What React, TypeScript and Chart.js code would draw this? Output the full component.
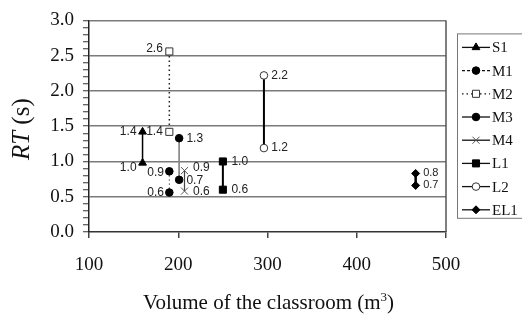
import React, { useEffect, useRef } from 'react';
import { Chart, registerables } from 'chart.js';
import { drawPoint } from 'chart.js/helpers';

Chart.register(...registerables);

// ---- data ----
const seriesNames = ['S1', 'M1', 'M2', 'M3', 'M4', 'L1', 'L2', 'EL1'];
const volumes = [160, 190, 190, 201, 207, 250, 296, 466];
const rtHigh = [1.42, 0.86, 2.56, 1.33, 0.87, 1.0, 2.22, 0.83];
const rtLow = [0.98, 0.56, 1.42, 0.74, 0.58, 0.6, 1.19, 0.66];
const xTickValues = [100, 200, 300, 400, 500];
const yTickValues = [0, 0.5, 1.0, 1.5, 2.0, 2.5, 3.0];
const xTitleMain = 'Volume of the classroom (m';
const xTitleSup = '3';
const xTitleEnd = ')';
const yTitleItalic = 'RT';
const yTitleRest = ' (s)';

// ---- styles ----
type S = {
  pointStyle: string; radius: number; fill: string; stroke: string;
  line: string; width: number; dash: number[]; side: 'left' | 'right';
  dyHigh: number; dyLow: number; legendDash: number[]; labelSize: number;
};
const styles: S[] = [
  { pointStyle: 'triangle', radius: 4.5, fill: '#000', stroke: '#000', line: '#000', width: 1.5, dash: [], side: 'left', dyHigh: 0, dyLow: 5, legendDash: [], labelSize: 12 },
  { pointStyle: 'circle', radius: 3.8, fill: '#000', stroke: '#000', line: '#555', width: 1, dash: [1.5, 2.5], side: 'left', dyHigh: 1, dyLow: 0, legendDash: [3, 2], labelSize: 12 },
  { pointStyle: 'rect', radius: 5, fill: '#fff', stroke: '#333', line: '#222', width: 1.5, dash: [1.5, 3], side: 'left', dyHigh: -3, dyLow: 0, legendDash: [1.5, 3], labelSize: 12 },
  { pointStyle: 'circle', radius: 3.8, fill: '#000', stroke: '#000', line: '#888', width: 1, dash: [], side: 'right', dyHigh: 0, dyLow: 1, legendDash: [], labelSize: 12 },
  { pointStyle: 'crossRot', radius: 5, fill: '#555', stroke: '#555', line: '#444', width: 1.2, dash: [], side: 'right', dyHigh: -3, dyLow: 1, legendDash: [], labelSize: 12 },
  { pointStyle: 'rect', radius: 5, fill: '#000', stroke: '#000', line: '#000', width: 2, dash: [], side: 'right', dyHigh: 0, dyLow: 0, legendDash: [], labelSize: 12 },
  { pointStyle: 'circle', radius: 3.8, fill: '#fff', stroke: '#333', line: '#000', width: 2, dash: [], side: 'right', dyHigh: 0, dyLow: 0, legendDash: [], labelSize: 12 },
  { pointStyle: 'rectRot', radius: 4, fill: '#000', stroke: '#000', line: '#000', width: 2.5, dash: [], side: 'right', dyHigh: 0, dyLow: 0, legendDash: [], labelSize: 11 },
];

const SERIF = "'Liberation Serif', 'Times New Roman', serif";
const SANS = "'Liberation Sans', Arial, sans-serif";

const isMajor = (v: number) => Math.abs(v * 2 - Math.round(v * 2)) < 1e-6;

const decorPlugin = {
  id: 'decor',
  afterDatasetsDraw(chart: any) {
    const ctx = chart.ctx as CanvasRenderingContext2D;
    const ca = chart.chartArea;
    ctx.save();
    // right border
    ctx.strokeStyle = '#555';
    ctx.lineWidth = 1.5;
    ctx.beginPath();
    ctx.moveTo(ca.right, ca.top);
    ctx.lineTo(ca.right, ca.bottom);
    ctx.stroke();

    // data labels
    chart.data.datasets.forEach((ds: any, i: number) => {
      const st = styles[i];
      const meta = chart.getDatasetMeta(i);
      ctx.font = `${st.labelSize}px ${SANS}`;
      ctx.fillStyle = '#222';
      ctx.textBaseline = 'middle';
      meta.data.forEach((pt: any, j: number) => {
        const v = ds.data[j].y;
        const txt = v.toFixed(1);
        const dy = j === 0 ? st.dyHigh : st.dyLow;
        if (st.side === 'left') {
          ctx.textAlign = 'right';
          ctx.fillText(txt, pt.x - st.radius - 1.5, pt.y + dy);
        } else {
          ctx.textAlign = 'left';
          ctx.fillText(txt, pt.x + st.radius + 3.5, pt.y + dy);
        }
      });
    });

    // legend
    const lx = ca.right + 11;
    const ly = ca.top + 13;
    const step = 23.2;
    const n = chart.data.datasets.length;
    ctx.strokeStyle = '#777';
    ctx.lineWidth = 1;
    ctx.setLineDash([]);
    ctx.strokeRect(lx + 0.5, ly + 0.5, 80, 14 + (n - 1) * step + 8);
    chart.data.datasets.forEach((ds: any, i: number) => {
      const st = styles[i];
      const y = ly + 14 + i * step;
      ctx.save();
      ctx.strokeStyle = '#111';
      ctx.lineWidth = 1.3;
      ctx.setLineDash(st.legendDash);
      ctx.beginPath();
      ctx.moveTo(lx + 5, y);
      ctx.lineTo(lx + 33, y);
      ctx.stroke();
      ctx.restore();
      ctx.save();
      ctx.fillStyle = st.fill;
      ctx.strokeStyle = st.stroke;
      ctx.lineWidth = 1;
      drawPoint(ctx, { pointStyle: st.pointStyle as any, radius: st.radius, rotation: 0, borderWidth: 1 } as any, lx + 19, y);
      ctx.restore();
      ctx.fillStyle = '#111';
      ctx.font = `15px ${SERIF}`;
      ctx.textAlign = 'left';
      ctx.textBaseline = 'middle';
      ctx.fillText(ds.label, lx + 35, y + 1);
    });

    // y title
    ctx.save();
    ctx.translate(22, (ca.top + ca.bottom) / 2 + 3);
    ctx.rotate(-Math.PI / 2);
    ctx.fillStyle = '#111';
    ctx.textBaseline = 'middle';
    ctx.textAlign = 'left';
    ctx.font = `italic 25px ${SERIF}`;
    const w1 = ctx.measureText(yTitleItalic).width;
    ctx.font = `25px ${SERIF}`;
    const w2 = ctx.measureText(yTitleRest).width;
    const sx = -(w1 + w2) / 2;
    ctx.font = `italic 25px ${SERIF}`;
    ctx.fillText(yTitleItalic, sx, 0);
    ctx.font = `25px ${SERIF}`;
    ctx.fillText(yTitleRest, sx + w1, 0);
    ctx.restore();

    // x title
    ctx.fillStyle = '#111';
    ctx.textBaseline = 'alphabetic';
    ctx.textAlign = 'left';
    ctx.font = `21px ${SERIF}`;
    const a = ctx.measureText(xTitleMain).width;
    const c = ctx.measureText(xTitleEnd).width;
    ctx.font = `13px ${SERIF}`;
    const b = ctx.measureText(xTitleSup).width;
    const cx = (ca.left + ca.right) / 2 + 1;
    const base = 309;
    const x0 = cx - (a + b + c) / 2;
    ctx.font = `21px ${SERIF}`;
    ctx.fillText(xTitleMain, x0, base);
    ctx.font = `13px ${SERIF}`;
    ctx.fillText(xTitleSup, x0 + a, base - 8);
    ctx.font = `21px ${SERIF}`;
    ctx.fillText(xTitleEnd, x0 + a + b, base);
    ctx.restore();
  },
};

export default function App() {
  const ref = useRef<HTMLCanvasElement>(null);
  useEffect(() => {
    if (!ref.current) return;
    const datasets = seriesNames.map((name, i) => {
      const st = styles[i];
      return {
        label: name,
        data: [
          { x: volumes[i], y: rtHigh[i] },
          { x: volumes[i], y: rtLow[i] },
        ],
        showLine: true,
        borderColor: st.line,
        borderWidth: st.width,
        borderDash: st.dash,
        pointStyle: st.pointStyle,
        pointRadius: st.radius,
        pointBackgroundColor: st.fill,
        pointBorderColor: st.stroke,
        pointBorderWidth: 1,
        fill: false,
        tension: 0,
        clip: false as any,
      };
    });
    const chart = new Chart(ref.current, {
      type: 'line',
      data: { datasets },
      options: {
        animation: false,
        responsive: false,
        events: [],
        layout: { padding: { left: 0, top: 16, right: 76, bottom: 0 } },
        plugins: { legend: { display: false }, tooltip: { enabled: false } },
        scales: {
          x: {
            type: 'linear',
            min: xTickValues[0],
            max: xTickValues[xTickValues.length - 1],
            afterBuildTicks: (s: any) => { s.ticks = xTickValues.map((v) => ({ value: v })); },
            afterFit: (s: any) => { s.height = 86; },
            grid: { drawOnChartArea: false, drawTicks: true, tickLength: 6, tickColor: '#444', lineWidth: 1.5 },
            border: { display: true, color: '#333', width: 1.5 },
            ticks: { font: { family: SERIF, size: 19 }, color: '#111', padding: 16, maxRotation: 0 },
          },
          y: {
            type: 'linear',
            min: yTickValues[0],
            max: yTickValues[yTickValues.length - 1],
            afterBuildTicks: (s: any) => {
              const t: any[] = [];
              for (let k = 0; k <= 30; k++) t.push({ value: k / 10 });
              s.ticks = t;
            },
            afterFit: (s: any) => { s.width = 89; },
            grid: {
              color: (c: any) => (isMajor(c.tick.value) && c.tick.value > 0 ? '#7a7a7a' : 'rgba(0,0,0,0)'),
              lineWidth: 1.5,
              drawTicks: true,
              tickLength: 6,
              tickColor: '#333',
              tickWidth: 1,
            },
            border: { display: true, color: '#222', width: 1.5 },
            ticks: {
              autoSkip: false,
              font: { family: SERIF, size: 19 },
              color: '#111',
              padding: 9,
              callback: (v: any) => (isMajor(Number(v)) ? Number(v).toFixed(1) : ''),
            },
          },
        },
      },
      plugins: [decorPlugin],
    });
    return () => chart.destroy();
  }, []);
  return (
    <div style={{ position: 'absolute', left: 0, top: 0, width: 522, height: 318, background: '#fff' }}>
      <canvas ref={ref} width={522} height={318} style={{ display: 'block' }} />
    </div>
  );
}
